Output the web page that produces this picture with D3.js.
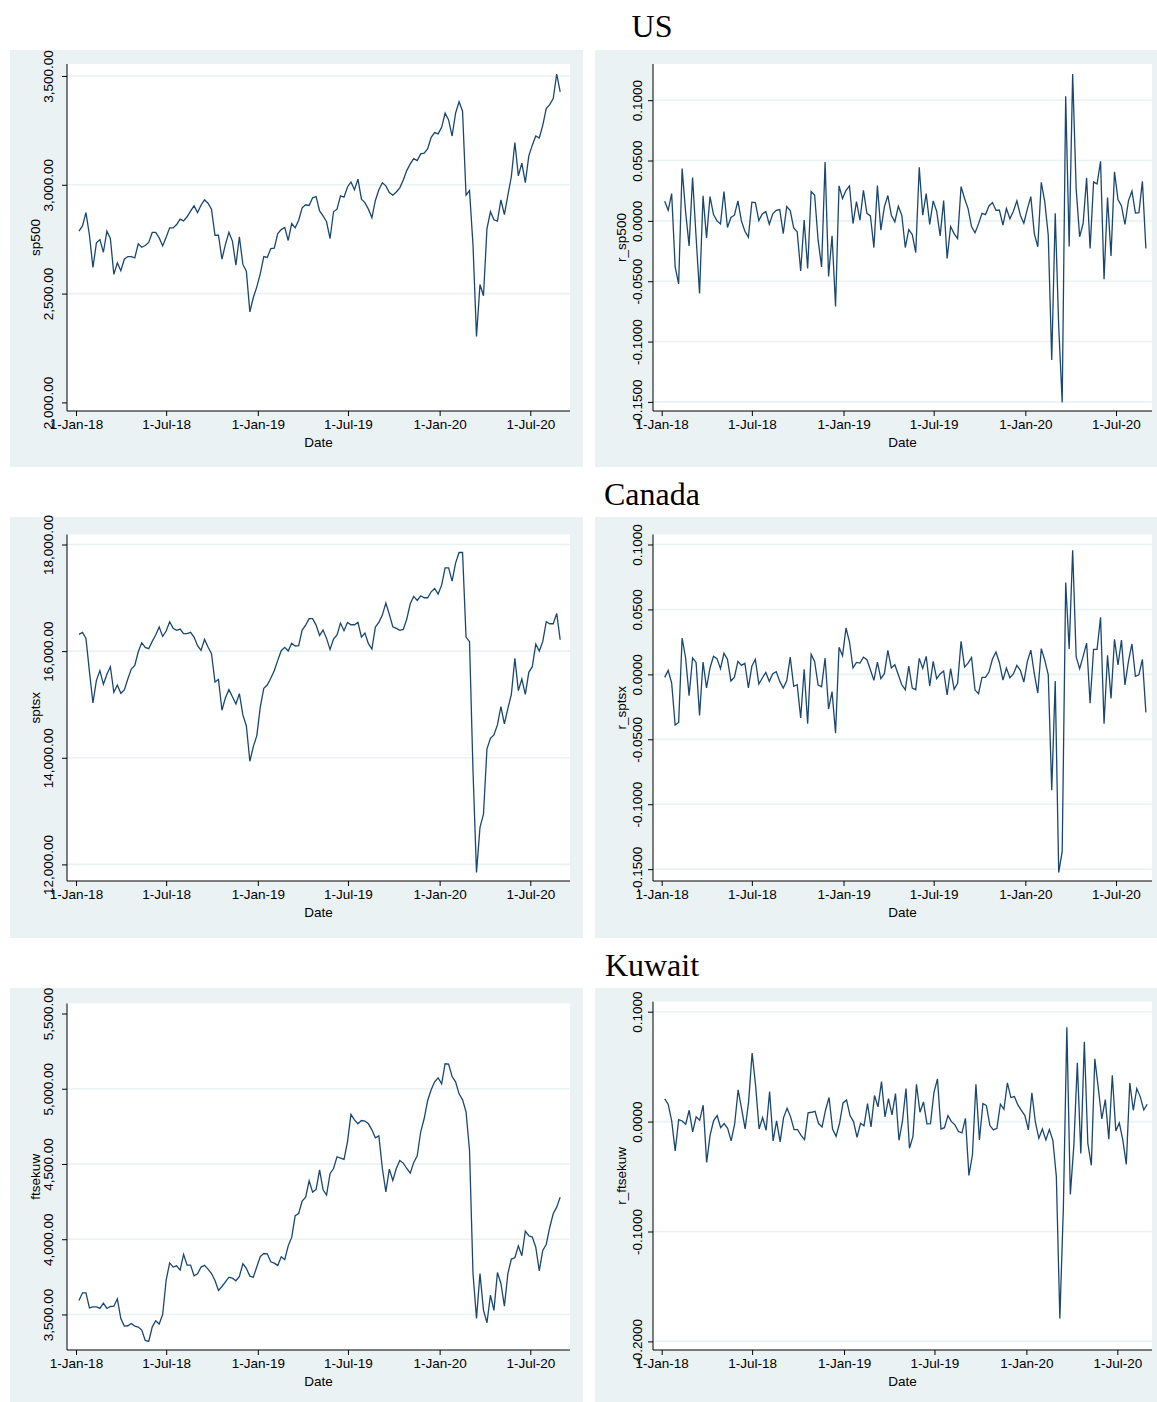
<!DOCTYPE html>
<html>
<head>
<meta charset="utf-8">
<script src="https://cdn.jsdelivr.net/npm/d3@7"></script>
<style>
  body { margin: 0; background: #fff; }
  svg text { font-family: "Liberation Sans", Arial, sans-serif; fill: #000; }
  .title { font-family: "Liberation Serif", "Times New Roman", serif; }
</style>
</head>
<body>
<svg id="chart" width="1157" height="1402"></svg>
<script>
// Weekly observations, first week starting 7 Jan 2018
const weekStart = "2018-01-07";

const sp500 = [
  2787, 2811, 2872, 2768, 2620, 2733, 2748, 2690, 2787, 2753,
  2588, 2641, 2605, 2658, 2670, 2670, 2664, 2729, 2713, 2721,
  2735, 2781, 2781, 2756, 2719, 2759, 2802, 2802, 2817, 2842,
  2834, 2853, 2879, 2903, 2872, 2906, 2931, 2915, 2888, 2768,
  2768, 2658, 2726, 2782, 2741, 2631, 2761, 2634, 2603, 2416,
  2482, 2531, 2592, 2670, 2666, 2707, 2709, 2776, 2794, 2804,
  2744, 2822, 2802, 2837, 2894, 2908, 2905, 2940, 2946, 2880,
  2857, 2830, 2753, 2876, 2888, 2949, 2943, 2990, 3013, 2977,
  3026, 2934, 2918, 2888, 2848, 2928, 2977, 3009, 2995, 2964,
  2952, 2967, 2986, 3022, 3065, 3096, 3120, 3111, 3142, 3145,
  3166, 3218, 3240, 3234, 3264, 3329, 3298, 3224, 3329, 3381,
  3338, 2952, 2973, 2722, 2303, 2542, 2490, 2799, 2876, 2839,
  2833, 2931, 2863, 2952, 3038, 3194, 3041, 3099, 3010, 3133,
  3182, 3224, 3215, 3273, 3350, 3368, 3396, 3509, 3427
];

const r_sp500 = [
  0.0163, 0.0088, 0.0226, -0.0381, -0.0522, 0.0433, 0.0075, -0.0207, 0.0359, -0.0132,
  -0.0602, 0.0207, -0.0141, 0.0201, 0.0052, 0.0000, -0.0025, 0.0243, -0.0055, 0.0028,
  0.0047, 0.0166, 0.0000, -0.0086, -0.0135, 0.0155, 0.0152, 0.0003, 0.0058, 0.0077,
  -0.0028, 0.0058, 0.0088, 0.0094, -0.0105, 0.0119, 0.0086, -0.0058, -0.0091, -0.0414,
  0.0006, -0.0395, 0.0243, 0.0215, -0.0160, -0.0381, 0.0488, -0.0461, -0.0124, -0.0709,
  0.0290, 0.0185, 0.0254, 0.0290, -0.0022, 0.0160, 0.0006, 0.0254, 0.0063, 0.0041,
  -0.0221, 0.0292, -0.0077, 0.0116, 0.0210, 0.0047, -0.0008, 0.0121, 0.0047, -0.0221,
  -0.0072, -0.0113, -0.0262, 0.0444, 0.0047, 0.0226, -0.0030, 0.0166, 0.0080, -0.0124,
  0.0168, -0.0312, -0.0047, -0.0105, -0.0146, 0.0284, 0.0185, 0.0102, -0.0047, -0.0099,
  -0.0025, 0.0063, 0.0052, 0.0124, 0.0152, 0.0088, 0.0088, -0.0036, 0.0102, 0.0017,
  0.0080, 0.0166, 0.0047, -0.0019, 0.0097, 0.0201, -0.0105, -0.0215, 0.0320, 0.0157,
  -0.0119, -0.1153, 0.0063, -0.0877, -0.1504, 0.1032, -0.0212, 0.1217, 0.0268, -0.0132,
  -0.0022, 0.0356, -0.0229, 0.0323, 0.0306, 0.0494, -0.0483, 0.0193, -0.0290, 0.0406,
  0.0177, 0.0124, -0.0030, 0.0166, 0.0246, 0.0066, 0.0069, 0.0328, -0.0229
];

const sptsx = [
  16314, 16352, 16239, 15615, 15028, 15452, 15634, 15378, 15565, 15708,
  15228, 15365, 15209, 15271, 15477, 15665, 15733, 15989, 16158, 16071,
  16046, 16183, 16302, 16451, 16277, 16377, 16551, 16427, 16389, 16414,
  16327, 16327, 16352, 16264, 16102, 16014, 16220, 16077, 15952, 15421,
  15471, 14891, 15128, 15278, 15146, 15009, 15203, 14803, 14597, 13935,
  14210, 14416, 14953, 15303, 15365, 15490, 15634, 15827, 16008, 16071,
  16002, 16146, 16096, 16102, 16395, 16489, 16608, 16608, 16489, 16295,
  16395, 16239, 16033, 16227, 16302, 16526, 16383, 16539, 16495, 16495,
  16539, 16264, 16339, 16139, 16039, 16451, 16539, 16676, 16901, 16689,
  16458, 16427, 16389, 16408, 16601, 16889, 17026, 16951, 17038, 17001,
  17001, 17113, 17176, 17070, 17238, 17563, 17563, 17313, 17650, 17850,
  17850, 16264, 16177, 13742, 11850, 12693, 12942, 14166, 14366, 14428,
  14616, 14959, 14635, 14928, 15190, 15865, 15259, 15477, 15190, 15602,
  15708, 16133, 16002, 16177, 16551, 16514, 16514, 16708, 16214
];

const r_sptsx = [
  -0.0023, 0.0031, -0.0067, -0.0390, -0.0370, 0.0280, 0.0126, -0.0164, 0.0126, 0.0092,
  -0.0316, 0.0095, -0.0105, 0.0049, 0.0139, 0.0121, 0.0044, 0.0162, 0.0116, -0.0051,
  -0.0021, 0.0100, 0.0069, 0.0085, -0.0105, 0.0062, 0.0116, -0.0074, -0.0028, 0.0015,
  -0.0054, 0.0005, 0.0021, -0.0054, -0.0105, -0.0049, 0.0133, -0.0092, -0.0080, -0.0336,
  0.0039, -0.0380, 0.0154, 0.0100, -0.0082, -0.0095, 0.0126, -0.0267, -0.0133, -0.0454,
  0.0208, 0.0144, 0.0357, 0.0249, 0.0049, 0.0092, 0.0087, 0.0133, 0.0113, 0.0036,
  -0.0046, 0.0095, -0.0033, 0.0005, 0.0185, 0.0049, 0.0074, -0.0003, -0.0080, -0.0118,
  0.0064, -0.0105, -0.0118, 0.0123, 0.0046, 0.0139, -0.0090, 0.0100, -0.0033, 0.0003,
  0.0026, -0.0159, 0.0044, -0.0116, -0.0069, 0.0254, 0.0056, 0.0087, 0.0131, -0.0121,
  -0.0149, -0.0023, -0.0023, 0.0018, 0.0118, 0.0172, 0.0090, -0.0044, 0.0049, -0.0026,
  0.0003, 0.0069, 0.0031, -0.0059, 0.0098, 0.0187, 0.0005, -0.0144, 0.0198, 0.0110,
  -0.0003, -0.0893, -0.0051, -0.1525, -0.1363, 0.0708, 0.0195, 0.0955, 0.0136, 0.0044,
  0.0139, 0.0241, -0.0223, 0.0193, 0.0193, 0.0439, -0.0380, 0.0146, -0.0185, 0.0270,
  0.0072, 0.0264, -0.0082, 0.0100, 0.0234, -0.0015, -0.0003, 0.0116, -0.0293
];

const ftsekuw = [
  3593, 3644, 3644, 3544, 3551, 3551, 3540, 3575, 3540, 3553,
  3555, 3604, 3473, 3423, 3425, 3440, 3423, 3416, 3396, 3327,
  3321, 3416, 3458, 3436, 3500, 3728, 3843, 3815, 3823, 3795,
  3899, 3828, 3828, 3757, 3770, 3815, 3826, 3801, 3772, 3726,
  3660, 3686, 3717, 3748, 3741, 3724, 3753, 3837, 3806, 3755,
  3748, 3817, 3885, 3905, 3903, 3850, 3841, 3826, 3883, 3865,
  3956, 4012, 4156, 4171, 4253, 4280, 4388, 4313, 4331, 4461,
  4328, 4293, 4435, 4470, 4548, 4539, 4530, 4647, 4829, 4793,
  4767, 4789, 4785, 4767, 4727, 4674, 4687, 4470, 4315, 4466,
  4390, 4470, 4523, 4506, 4470, 4439, 4510, 4554, 4714, 4802,
  4922, 4993, 5046, 5073, 5033, 5166, 5164, 5081, 5046, 4966,
  4926, 4847, 4590, 3770, 3473, 3772, 3529, 3445, 3628, 3527,
  3779, 3706, 3555, 3772, 3868, 3877, 3956, 3890, 4054, 4023,
  4014, 3947, 3790, 3925, 3965, 4078, 4169, 4213, 4280
];

const r_ftsekuw = [
  0.0207, 0.0158, 0.0006, -0.0267, 0.0018, 0.0006, -0.0024, 0.0103, -0.0094, 0.0043,
  0.0012, 0.0149, -0.0371, -0.0121, 0.0009, 0.0055, -0.0055, -0.0018, -0.0061, -0.0176,
  -0.0024, 0.0289, 0.0115, -0.0067, 0.0182, 0.0623, 0.0328, -0.0067, 0.0036, -0.0079,
  0.0273, -0.0176, 0.0006, -0.0185, 0.0036, 0.0121, 0.0043, -0.0073, -0.0073, -0.0125,
  -0.0164, 0.0079, 0.0085, 0.0094, -0.0018, -0.0049, 0.0106, 0.0219, -0.0067, -0.0134,
  -0.0015, 0.0170, 0.0197, 0.0055, 0.0000, -0.0143, -0.0015, -0.0039, 0.0164, -0.0049,
  0.0237, 0.0134, 0.0364, 0.0043, 0.0210, 0.0061, 0.0255, -0.0170, 0.0006, 0.0301,
  -0.0243, -0.0134, 0.0340, 0.0085, 0.0179, -0.0021, -0.0018, 0.0267, 0.0389, -0.0067,
  -0.0055, 0.0055, 0.0000, -0.0030, -0.0091, -0.0103, 0.0030, -0.0489, -0.0304, 0.0340,
  -0.0167, 0.0164, 0.0146, -0.0036, -0.0076, -0.0061, 0.0158, 0.0112, 0.0352, 0.0219,
  0.0228, 0.0152, 0.0103, 0.0055, -0.0076, 0.0261, -0.0006, -0.0152, -0.0067, -0.0167,
  -0.0073, -0.0170, -0.0501, -0.1792, -0.0790, 0.0859, -0.0662, -0.0219, 0.0535, -0.0289,
  0.0726, -0.0197, -0.0398, 0.0571, 0.0304, 0.0024, 0.0200, -0.0161, 0.0422, -0.0085,
  -0.0012, -0.0167, -0.0389, 0.0352, 0.0103, 0.0301, 0.0225, 0.0106, 0.0158
];

// Axis ticks
const dateTicks = ["2018-01-01", "2018-07-01", "2019-01-01", "2019-07-01", "2020-01-01", "2020-07-01"];
const sp500Ticks = [2000, 2500, 3000, 3500];
const sptsxTicks = [12000, 14000, 16000, 18000];
const ftsekuwTicks = [3500, 4000, 4500, 5000, 5500];
const returnTicks = [-0.15, -0.10, -0.05, 0, 0.05, 0.10];
const kuwReturnTicks = [-0.2, -0.1, 0, 0.1];

const countries = ["US", "Canada", "Kuwait"];

// ---------- layout ----------
const parse = d3.utcParse("%Y-%m-%d");
const dates = sp500.map((_, i) => d3.utcDay.offset(parse(weekStart), 7 * i));
const fmtDate = d3.utcFormat("%-d-%b-%y");
const fmtLevel = d3.format(",.2f");
const fmtRet = v => d3.format(".4f")(v).replace("\u2212", "-");

const cols = [
  { bg: [10, 583], plot: [67, 570], t0: 76, labelShift: -14 },
  { bg: [595, 1157], plot: [653, 1152], t0: 661.7, labelShift: -11 }
];
const rows = [
  { bg: [50, 467], plot: [64, 411], titleY: 37 },
  { bg: [517, 938], plot: [534.5, 881], titleY: 505 },
  { bg: [988, 1402], plot: [1003.5, 1350], titleY: 976 }
];

const panels = [
  { row: 0, col: 0, name: "sp500", values: sp500, ticks: sp500Ticks, fmt: fmtLevel, skipGrid: [2000] },
  { row: 0, col: 1, name: "r_sp500", values: r_sp500, ticks: returnTicks, fmt: fmtRet, skipGrid: [] },
  { row: 1, col: 0, name: "sptsx", values: sptsx, ticks: sptsxTicks, fmt: fmtLevel, skipGrid: [] },
  { row: 1, col: 1, name: "r_sptsx", values: r_sptsx, ticks: returnTicks, fmt: fmtRet, skipGrid: [] },
  { row: 2, col: 0, name: "ftsekuw", values: ftsekuw, ticks: ftsekuwTicks, fmt: fmtLevel, skipGrid: [5500] },
  { row: 2, col: 1, name: "r_ftsekuw", values: r_ftsekuw, ticks: kuwReturnTicks, fmt: fmtRet, skipGrid: [], plotTop: 1001.7, tSpan: 455.6 }
];

const svg = d3.select("#chart");
const BG = "#eaf2f3";
const LINE = "#1a476f";

// panel backgrounds
panels.forEach(p => {
  const c = cols[p.col], r = rows[p.row];
  svg.append("rect")
    .attr("x", c.bg[0]).attr("y", r.bg[0])
    .attr("width", c.bg[1] - c.bg[0]).attr("height", r.bg[1] - r.bg[0])
    .attr("fill", BG);
});

// country titles
rows.forEach((r, i) => {
  svg.append("text").attr("class", "title")
    .attr("x", 652).attr("y", r.titleY)
    .attr("text-anchor", "middle")
    .style("font-size", "32px")
    .text(countries[i]);
});

panels.forEach(p => {
  const c = cols[p.col], r = rows[p.row];
  const x0 = c.plot[0], x1 = c.plot[1];
  const y0 = p.plotTop ?? r.plot[0], y1 = r.plot[1];
  const g = svg.append("g");

  g.append("rect").attr("x", x0).attr("y", y0)
    .attr("width", x1 - x0).attr("height", y1 - y0).attr("fill", "#fff");

  const x = d3.scaleUtc()
    .domain([parse(dateTicks[0]), parse(dateTicks[dateTicks.length - 1])])
    .range([c.t0, c.t0 + (p.tSpan ?? 454.3)]);

  const lo = Math.min(d3.min(p.values), d3.min(p.ticks));
  const hi = Math.max(d3.max(p.values), d3.max(p.ticks));
  const y = d3.scaleLinear().domain([lo, hi]).range([y1 - 8.6, y0 + 10]);

  // grid lines
  g.selectAll(".grid").data(p.ticks.filter(t => !p.skipGrid.includes(t)))
    .join("line")
    .attr("x1", x0).attr("x2", x1)
    .attr("y1", d => y(d)).attr("y2", d => y(d))
    .attr("stroke", BG).attr("stroke-width", 1.6);

  // series line
  const line = d3.line().x((d, i) => x(dates[i])).y(d => y(d));
  g.append("path").datum(p.values)
    .attr("d", line)
    .attr("fill", "none")
    .attr("stroke", LINE)
    .attr("stroke-width", 1.3)
    .attr("stroke-linejoin", "miter");

  // y axis
  const yAxis = d3.axisLeft(y).tickValues(p.ticks).tickFormat(p.fmt).tickSize(5).tickPadding(4);
  const ya = g.append("g").attr("transform", `translate(${x0},0)`).call(yAxis);
  ya.select(".domain").attr("d", `M0,${y0}V${y1}`).attr("stroke", "#000");
  ya.selectAll(".tick line").attr("stroke", "#000");
  ya.selectAll(".tick text")
    .attr("x", null).attr("dy", null)
    .attr("text-anchor", "middle")
    .attr("transform", `translate(${c.labelShift},0) rotate(-90)`)
    .style("font-size", "13.5px");

  // x axis
  const xAxis = d3.axisBottom(x).tickValues(dateTicks.map(parse)).tickFormat(fmtDate).tickSize(5).tickPadding(3);
  const xa = g.append("g").attr("transform", `translate(0,${y1})`).call(xAxis);
  xa.select(".domain").attr("d", `M${x0},0H${x1}`).attr("stroke", "#000");
  xa.selectAll(".tick line").attr("stroke", "#000");
  xa.selectAll(".tick text").style("font-size", "13.5px");

  // axis titles
  g.append("text")
    .attr("x", (x0 + x1) / 2).attr("y", y1 + 36)
    .attr("text-anchor", "middle").style("font-size", "13.5px")
    .text("Date");
  g.append("text")
    .attr("transform", `translate(${x0 - 27},${(y0 + y1) / 2}) rotate(-90)`)
    .attr("text-anchor", "middle").style("font-size", "13.5px")
    .text(p.name);
});
</script>
</body>
</html>
